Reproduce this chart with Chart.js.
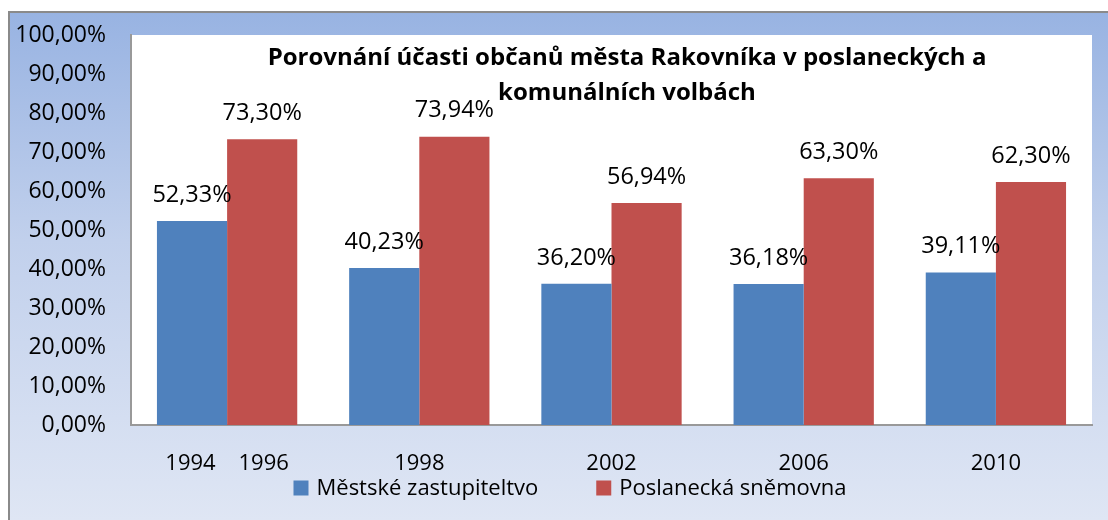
<!DOCTYPE html>
<html>
<head>
<meta charset="utf-8">
<script src="https://cdn.jsdelivr.net/npm/chart.js@4"></script>
<style>
  html, body { margin: 0; padding: 0; background: #fff; }
  #wrap { width: 1108px; height: 520px; }
</style>
</head>
<body>
<div id="wrap"><canvas id="c" width="1108" height="520"></canvas></div>
<script>
// chart data
const years = ['1994    1996', '1998', '2002', '2006', '2010'];
const mestske = [52.33, 40.23, 36.20, 36.18, 39.11];
const poslanecka = [73.30, 73.94, 56.94, 63.30, 62.30];
const seriesNames = ['Městské zastupiteltvo', 'Poslanecká sněmovna'];
const titleLines = ['Porovnání účasti občanů města Rakovníka v poslaneckých a', 'komunálních volbách'];

const FONT = "'Open Sans', sans-serif";
const pct = v => v.toFixed(2).replace('.', ',') + '%';

// frame + white plot area
const backdrop = {
    id: 'backdrop',
    beforeDraw(chart) {
        const { ctx, chartArea: a } = chart;
        ctx.save();
        const g = ctx.createLinearGradient(0, 12, 0, 520);
        g.addColorStop(0, '#98b3e2');
        g.addColorStop(0.45, '#c1d0ec');
        g.addColorStop(1, '#dfe6f4');
        ctx.fillStyle = g;
        ctx.fillRect(9, 12, 1200, 600);
        ctx.strokeStyle = '#8a8a8a';
        ctx.lineWidth = 2;
        ctx.strokeRect(9, 12, 1200, 600);
        ctx.fillStyle = '#ffffff';
        ctx.fillRect(a.left, a.top, a.right - a.left, a.bottom - a.top);
        ctx.restore();
    }
};

// value labels above bars, title on top of the plot, legend under the axis
const overlay = {
    id: 'overlay',
    afterDatasetsDraw(chart) {
        const { ctx } = chart;
        ctx.save();
        ctx.fillStyle = '#000';
        ctx.font = '23.5px ' + FONT;
        ctx.textAlign = 'center';
        ctx.textBaseline = 'middle';
        chart.data.datasets.forEach((ds, i) => {
            chart.getDatasetMeta(i).data.forEach((bar, j) => {
                ctx.fillText(pct(ds.data[j]), bar.x, bar.y - 26);
            });
        });
        ctx.font = 'bold 24px ' + FONT;
        ctx.fillText(titleLines[0], 627, 58);
        ctx.fillText(titleLines[1], 627, 93);

        // legend
        ctx.font = '22px ' + FONT;
        ctx.textAlign = 'left';
        const box = 15, gap = 8, between = 58, cy = 488;
        const widths = chart.data.datasets.map(ds => box + gap + ctx.measureText(ds.label).width);
        const total = widths.reduce((s, w) => s + w, 0) + between * (widths.length - 1);
        let x = 570 - total / 2;
        chart.data.datasets.forEach((ds, i) => {
            ctx.fillStyle = ds.backgroundColor;
            ctx.fillRect(x, cy - box / 2, box, box);
            ctx.fillStyle = '#000';
            ctx.fillText(ds.label, x + box + gap, cy + 1);
            x += widths[i] + between;
        });
        ctx.restore();
    }
};

new Chart(document.getElementById('c'), {
    type: 'bar',
    data: {
        labels: years,
        datasets: [
            { label: seriesNames[0], data: mestske, backgroundColor: '#4f81bd' },
            { label: seriesNames[1], data: poslanecka, backgroundColor: '#c0504d' }
        ]
    },
    options: {
        responsive: false,
        animation: false,
        layout: { padding: { left: 9, top: 35, right: 16, bottom: 43 } },
        datasets: {
            bar: { categoryPercentage: 0.73, barPercentage: 1 }
        },
        plugins: {
            tooltip: { enabled: false },
            legend: { display: false }
        },
        scales: {
            x: {
                grid: { display: false },
                border: { display: true, color: '#999', width: 2 },
                ticks: { color: '#000', font: { family: FONT, size: 22 }, padding: 18, maxRotation: 0 },
                afterFit: s => { s.height = 52; }
            },
            y: {
                min: 0,
                max: 100,
                grid: { display: false },
                border: { display: true, color: '#999', width: 2 },
                ticks: {
                    stepSize: 10,
                    color: '#000',
                    font: { family: FONT, size: 23 },
                    padding: 17,
                    callback: v => pct(v)
                },
                afterFit: s => { s.width = 122; }
            }
        }
    },
    plugins: [backdrop, overlay]
});
</script>
</body>
</html>
